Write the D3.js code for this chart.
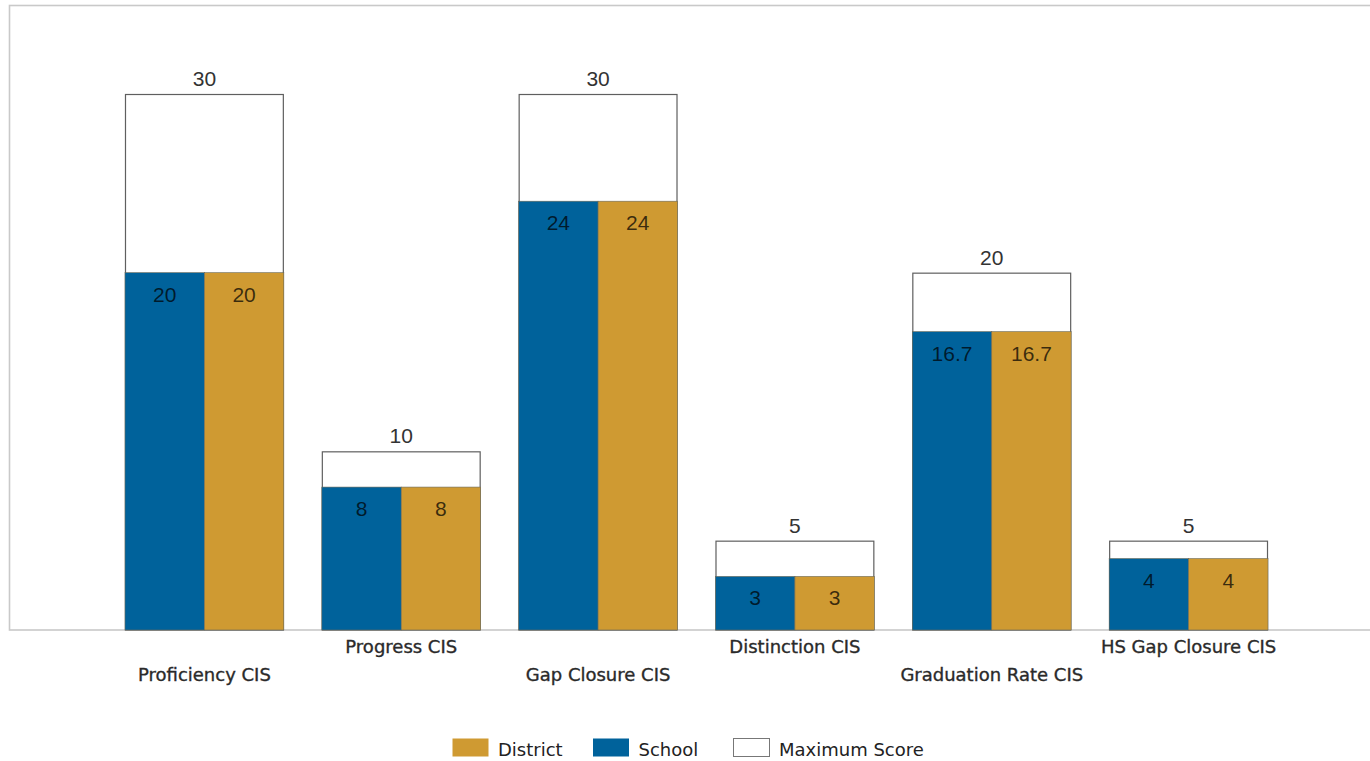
<!DOCTYPE html>
<html>
<head>
<meta charset="utf-8">
<script src="https://cdn.jsdelivr.net/npm/d3@7/dist/d3.min.js"></script>
<style>
  html, body { margin: 0; padding: 0; background: #fff; }
  svg { display: block; }
</style>
</head>
<body>
<svg id="chart" width="1370" height="761"></svg>
<script>
// Score components and values
const categories = ["Proficiency CIS", "Progress CIS", "Gap Closure CIS", "Distinction CIS", "Graduation Rate CIS", "HS Gap Closure CIS"];
const maximumScore = [30, 10, 30, 5, 20, 5];
const schoolScore = [20, 8, 24, 3, 16.7, 4];
const districtScore = [20, 8, 24, 3, 16.7, 4];
const legendItems = ["District", "School", "Maximum Score"];

const colors = { School: "#00629b", District: "#cf9a32", Maximum: "#ffffff" };

const svg = d3.select("#chart");

const frame = { left: 9.5, top: 5.5, right: 1372, bottom: 630 };

const x = d3.scaleBand()
  .domain(categories)
  .range([106, 1287])
  .paddingInner(0.193)
  .paddingOuter(0.0965);

const sub = d3.scaleBand()
  .domain(["School", "District"])
  .range([0, x.bandwidth()]);

const y = d3.scaleLinear()
  .domain([0, 30])
  .range([frame.bottom, 94]);

// plot frame
svg.append("rect")
  .attr("x", frame.left).attr("y", frame.top)
  .attr("width", frame.right - frame.left)
  .attr("height", frame.bottom - frame.top)
  .attr("fill", "none")
  .attr("stroke", "#c9c9c9")
  .attr("stroke-width", 1.6);

const rows = categories.map((c, i) => ({
  cat: c, max: maximumScore[i], School: schoolScore[i], District: districtScore[i], idx: i
}));

const g = svg.append("g");

// maximum score outlines (behind)
g.selectAll("rect.max").data(rows).join("rect")
  .attr("class", "max")
  .attr("x", d => x(d.cat) + 0.5)
  .attr("y", d => y(d.max) + 0.5)
  .attr("width", x.bandwidth() - 1)
  .attr("height", d => y(0) - y(d.max) - 0.5)
  .attr("fill", colors.Maximum)
  .attr("stroke", "#5f5f5f")
  .attr("stroke-width", 1.2);

// school and district bars
["School", "District"].forEach(key => {
  g.selectAll("rect." + key).data(rows).join("rect")
    .attr("class", key)
    .attr("x", d => x(d.cat) + sub(key))
    .attr("y", d => y(d[key]))
    .attr("width", sub.bandwidth())
    .attr("height", d => y(0) - y(d[key]))
    .attr("fill", colors[key])
    .attr("stroke", "#6a6a5a")
    .attr("stroke-width", 0.6);

  g.selectAll("text." + key).data(rows).join("text")
    .attr("class", key)
    .attr("x", d => x(d.cat) + sub(key) + sub.bandwidth() / 2)
    .attr("y", d => y(d[key]) + 29)
    .attr("text-anchor", "middle")
    .attr("font-family", "'Liberation Sans Narrow', 'Liberation Sans', sans-serif")
    .attr("font-size", 21)
    .attr("fill", "#000")
    .attr("fill-opacity", 0.72)
    .text(d => d[key]);
});

// maximum value labels
g.selectAll("text.maxlab").data(rows).join("text")
  .attr("class", "maxlab")
  .attr("x", d => x(d.cat) + x.bandwidth() / 2)
  .attr("y", d => y(d.max) - 8)
  .attr("text-anchor", "middle")
  .attr("font-family", "'Liberation Sans Narrow', 'Liberation Sans', sans-serif")
  .attr("font-size", 21)
  .attr("fill", "#333")
  .text(d => d.max);

// category labels, staggered on two rows
g.selectAll("text.cat").data(rows).join("text")
  .attr("class", "cat")
  .attr("x", d => x(d.cat) + x.bandwidth() / 2)
  .attr("y", d => d.idx % 2 === 0 ? 681 : 653)
  .attr("text-anchor", "middle")
  .attr("font-family", "'DejaVu Sans', sans-serif")
  .attr("font-size", 18)
  .attr("fill", "#2a2a2a")
  .attr("stroke", "#2a2a2a")
  .attr("stroke-width", 0.35)
  .text(d => d.cat);

// legend
const legendX = d3.scalePoint().domain(legendItems).range([452, 733]);
const legendFill = { "District": colors.District, "School": colors.School, "Maximum Score": colors.Maximum };
const lg = svg.append("g").selectAll("g").data(legendItems).join("g")
  .attr("transform", d => `translate(${legendX(d)},738)`);
lg.append("rect")
  .attr("x", 0.5).attr("y", 0.5)
  .attr("width", 36).attr("height", 18)
  .attr("fill", d => legendFill[d])
  .attr("stroke", d => d === "Maximum Score" ? "#777" : "none")
  .attr("stroke-width", 1);
lg.append("text")
  .attr("x", 46).attr("y", 18)
  .attr("font-family", "'DejaVu Sans', sans-serif")
  .attr("font-size", 18)
  .attr("fill", "#222")
  .text(d => d);
</script>
</body>
</html>
